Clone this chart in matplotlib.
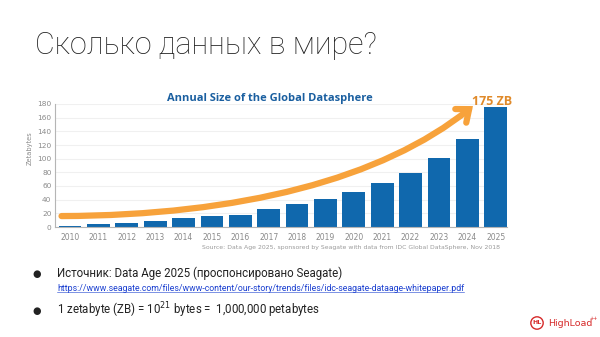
import matplotlib.pyplot as plt
from matplotlib.path import Path
import matplotlib.patches as mpatches

years = list(range(2010, 2026))
zettabytes = [2, 5, 6.5, 9, 12.5, 15.5, 18, 26, 33, 41, 50.5, 64.5, 79.5, 101, 129, 175]
y_ticks = [0, 20, 40, 60, 80, 100, 120, 140, 160, 180]

bar_color = '#1068ad'
orange = '#f7a23b'

fig = plt.figure(figsize=(6, 3.37), dpi=100)
fig.patch.set_facecolor('white')

# slide title
fig.text(35 / 600, 1 - 46 / 337, 'Сколько данных в мире?', family='Roboto', weight='light',
         fontsize=22, color='#222222', va='center', ha='left')

# chart
ax = fig.add_axes([55 / 600, 1 - 227 / 337, 452 / 600, 123 / 337])
ax.bar(years, zettabytes, width=0.8, color=bar_color, zorder=2)
ax.set_xlim(2009.47, 2025.4)
ax.set_ylim(0, 180)
ax.set_yticks(y_ticks)
ax.set_xticks(years)
ax.tick_params(axis='x', length=0, labelsize=5.5, labelcolor='#8a8a8a', pad=4)
ax.tick_params(axis='y', length=0, labelsize=5.3, labelcolor='#8a8a8a', pad=2.5)
ax.yaxis.grid(True, color='#f0f0f0', lw=0.8, zorder=0)
for s in ['top', 'right']:
    ax.spines[s].set_visible(False)
for s in ['left', 'bottom']:
    ax.spines[s].set_color('#b5b5b5')
    ax.spines[s].set_linewidth(0.8)
ax.set_ylabel('Zetabytes', fontsize=4.8, color='#8a8a8a')
ax.yaxis.set_label_coords(-0.05, 0.64)

ax.text(0.476, 1.0, 'Annual Size of the Global Datasphere', transform=ax.transAxes,
        fontsize=8, fontweight='bold', color='#1a5fa0', family='Open Sans',
        ha='center', va='bottom')

# growth arrow (decoration)
verts = [(2009.7, 16), (2016, 17), (2021, 70), (2024.2, 177)]
codes = [Path.MOVETO, Path.CURVE4, Path.CURVE4, Path.CURVE4]
arrow = mpatches.FancyArrowPatch(path=Path(verts, codes), arrowstyle='->,head_length=0.55,head_width=0.45',
                                 mutation_scale=14, lw=4.5, color=orange, capstyle='round',
                                 joinstyle='miter', zorder=3, clip_on=False)
ax.add_patch(arrow)
ax.text(2024.15, 184, '175 ZB', fontsize=9, fontweight='bold', color='#e08a2a',
        family='Open Sans', ha='left', va='center', clip_on=False)

fig.text(500 / 600, 1 - 248 / 337,
         'Source: Data Age 2025, sponsored by Seagate with data from IDC Global DataSphere, Nov 2018',
         fontsize=4.4, color='#9a9a9a', ha='right', va='center')

# bullets
fig.text(37 / 600, 1 - 274 / 337, '●', fontsize=7, color='#222222', va='center', ha='center')
fig.text(57 / 600, 1 - 273 / 337, 'Источник: Data Age 2025 (проспонсировано Seagate)',
         family='Roboto', fontsize=8.3, color='#222222', va='center')
link = fig.text(57 / 600, 1 - 288.5 / 337,
                'https://www.seagate.com/files/www-content/our-story/trends/files/idc-seagate-dataage-whitepaper.pdf',
                family='Roboto', fontsize=6.3, color='#1a3fd0', va='center')
fig.canvas.draw()
bb = link.get_window_extent().transformed(fig.transFigure.inverted())
fig.add_artist(plt.Line2D([bb.x0, bb.x1], [1 - 292 / 337] * 2, color='#1a3fd0', lw=0.4))
fig.text(37 / 600, 1 - 311 / 337, '●', fontsize=7, color='#222222', va='center', ha='center')
fig.text(57 / 600, 1 - 310 / 337, '1 zetabyte (ZB) = 10$^{21}$ bytes =  1,000,000 petabytes',
         family='Roboto', fontsize=8.3, color='#222222', va='center')

# HighLoad logo
fig.text(537 / 600, 1 - 323 / 337, 'HL', fontsize=4.5, fontweight='bold', color='#d62a2a',
         ha='center', va='center',
         bbox=dict(boxstyle='circle,pad=0.25', fc='white', ec='#d62a2a', lw=1))
fig.text(548 / 600, 1 - 324 / 337, 'HighLoad', fontsize=6.8, color='#d62a2a', ha='left', va='center')
fig.text(589 / 600, 1 - 318 / 337, '++', fontsize=3.5, color='#d62a2a', ha='left', va='center')

fig.savefig('out.png', dpi=100)
